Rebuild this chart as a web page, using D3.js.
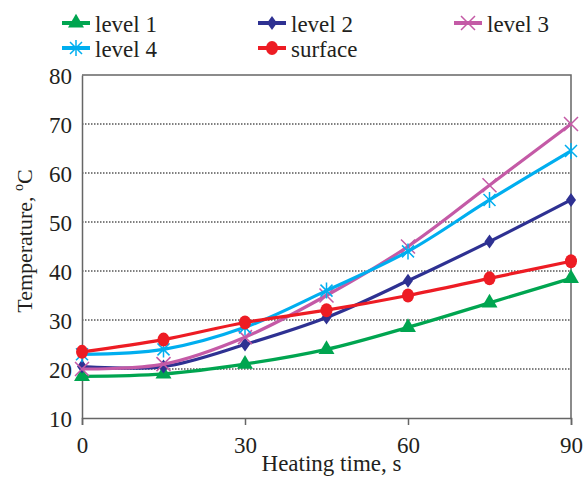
<!DOCTYPE html>
<html>
<head>
<meta charset="utf-8">
<script src="https://cdn.jsdelivr.net/npm/d3@7"></script>
<style>
  body { margin: 0; background: #fff; }
  svg text { font-family: "Liberation Serif", "DejaVu Serif", serif !important; }
</style>
</head>
<body>
<script>
var times = [0, 15, 30, 45, 60, 75, 90];
var level1 = [18.5, 19, 21, 24, 28.5, 33.5, 38.5];
var level2 = [20.5, 20.5, 25, 30.5, 38, 46, 54.5];
var level3 = [20, 21, 26.5, 35, 45, 57.5, 70];
var level4 = [23, 24, 28.5, 36, 44, 54.5, 64.5];
var surface = [23.5, 26, 29.5, 32, 35, 38.5, 42];
var xTicks = [0, 30, 60, 90];
var yTicks = [10, 20, 30, 40, 50, 60, 70, 80];

var series = [
  { name: "level 1", values: level1, color: "#00a550", marker: "triangle" },
  { name: "level 2", values: level2, color: "#2e3192", marker: "diamond" },
  { name: "level 3", values: level3, color: "#c45aa6", marker: "cross" },
  { name: "level 4", values: level4, color: "#00aeef", marker: "asterisk" },
  { name: "surface", values: surface, color: "#ed1c24", marker: "circle" }
];

var width = 585, height = 477;
var margin = { left: 82, right: 14, top: 75, bottom: 59 };
var fontSize = 23;

var svg = d3.select("body").append("svg")
  .attr("width", width)
  .attr("height", height)
  .attr("font-family", "'Liberation Serif', serif");

var x = d3.scaleLinear().domain([0, 90]).range([margin.left, width - margin.right]);
var y = d3.scaleLinear().domain([10, 80]).range([height - margin.bottom, margin.top]);

// grid
svg.append("g").selectAll("line")
  .data(yTicks.filter(function (d) { return d > 10 && d < 80; }))
  .enter().append("line")
  .attr("x1", x(0)).attr("x2", x(90))
  .attr("y1", function (d) { return y(d); })
  .attr("y2", function (d) { return y(d); })
  .attr("stroke", "#000")
  .attr("stroke-width", 1)
  .attr("stroke-dasharray", "1.5,1.5");

// frame (top and right)
svg.append("path")
  .attr("d", "M" + x(0) + "," + y(80) + "H" + x(90) + "V" + y(10))
  .attr("fill", "none")
  .attr("stroke", "#666")
  .attr("stroke-width", 1.5);

var xAxis = svg.append("g")
  .attr("transform", "translate(0," + y(10) + ")")
  .call(d3.axisBottom(x).tickValues(xTicks).tickSize(7).tickPadding(12));
var yAxis = svg.append("g")
  .attr("transform", "translate(" + x(0) + ",0)")
  .call(d3.axisLeft(y).tickValues(yTicks).tickSize(0).tickPadding(10));

[xAxis, yAxis].forEach(function (a) {
  a.attr("font-family", null);
  a.select(".domain").attr("stroke", "#666").attr("stroke-width", 1.5);
  a.selectAll(".tick line").attr("stroke", "#666").attr("stroke-width", 1.5);
  a.selectAll("text").attr("font-size", fontSize).attr("fill", "#231f20");
});
yAxis.selectAll(".tick text").attr("dy", "0.35em");

// axis titles
svg.append("text")
  .attr("x", x(45) + 5).attr("y", 471)
  .attr("text-anchor", "middle")
  .attr("font-size", fontSize).attr("fill", "#231f20")
  .text("Heating time, s");

var yl = svg.append("text")
  .attr("transform", "translate(32,241) rotate(-90)")
  .attr("text-anchor", "middle")
  .attr("font-size", 22).attr("fill", "#231f20");
yl.append("tspan").text("Temperature, ");
yl.append("tspan").attr("font-size", 14).attr("dy", -9).text("o");
yl.append("tspan").attr("dy", 9).text("C");

var line = d3.line()
  .x(function (d, i) { return x(times[i]); })
  .y(function (d) { return y(d); })
  .curve(d3.curveCatmullRom.alpha(0.5));

function drawMarker(g, type, color) {
  if (type === "triangle") {
    g.append("path").attr("d", d3.symbol().type(d3.symbolTriangle).size(110)())
      .attr("fill", color);
  } else if (type === "diamond") {
    g.append("path").attr("d", "M0,-7L5,0L0,7L-5,0Z").attr("fill", color);
  } else if (type === "circle") {
    g.append("ellipse").attr("rx", 6).attr("ry", 7).attr("fill", color);
  } else if (type === "cross") {
    g.append("path").attr("d", "M-7,-7L7,7M-7,7L7,-7")
      .attr("stroke", color).attr("stroke-width", 1.5);
  } else if (type === "asterisk") {
    g.append("path").attr("d", "M-6,-6L6,6M-6,6L6,-6M0,-8V8")
      .attr("stroke", color).attr("stroke-width", 1.5);
  }
}

series.forEach(function (s) {
  var g = svg.append("g");
  g.append("path")
    .datum(s.values)
    .attr("d", line)
    .attr("fill", "none")
    .attr("stroke", s.color)
    .attr("stroke-width", 3.2);
  s.values.forEach(function (v, i) {
    var m = g.append("g").attr("transform", "translate(" + x(times[i]) + "," + y(v) + ")");
    drawMarker(m, s.marker, s.color);
  });
});

// legend
var legendPos = [[62, 23], [258, 23], [454, 23], [62, 48], [258, 48]];
series.forEach(function (s, i) {
  var p = legendPos[i];
  var g = svg.append("g").attr("transform", "translate(" + p[0] + "," + p[1] + ")");
  g.append("line").attr("x1", 0).attr("x2", 28).attr("y1", 0).attr("y2", 0)
    .attr("stroke", s.color).attr("stroke-width", 4);
  var m = g.append("g").attr("transform", "translate(14,0)");
  drawMarker(m, s.marker, s.color);
  g.append("text").attr("x", 33).attr("y", 9)
    .attr("font-size", fontSize).attr("fill", "#231f20")
    .text(s.name);
});
</script>
</body>
</html>
